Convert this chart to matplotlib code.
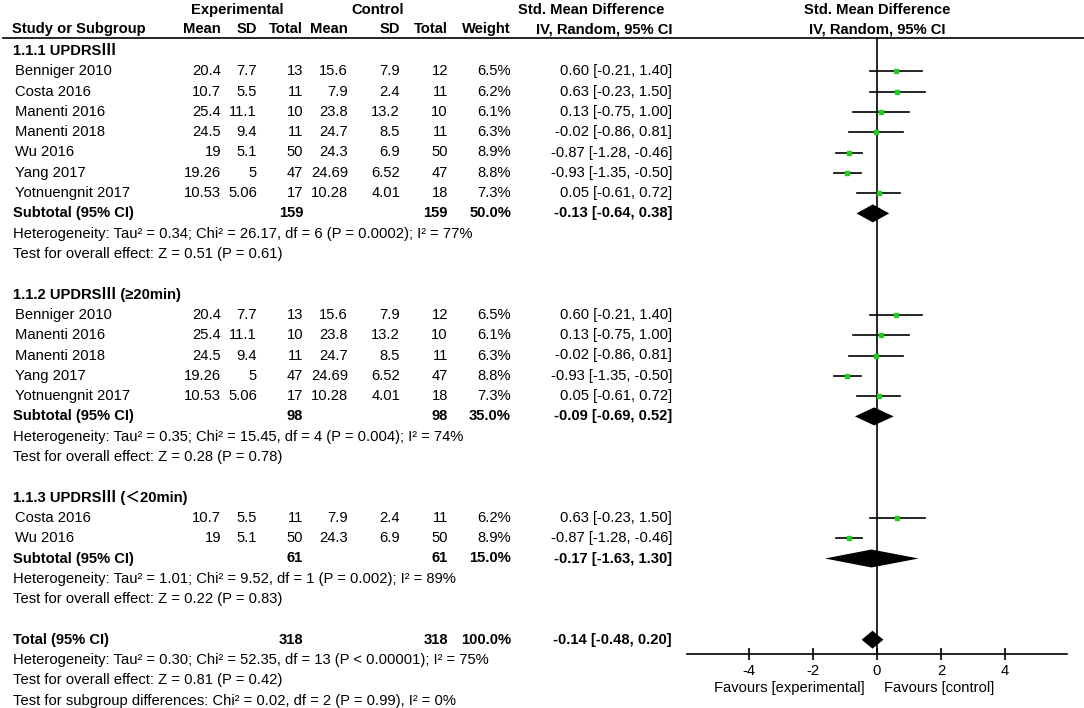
import matplotlib
matplotlib.use('Agg')
import matplotlib.pyplot as plt

# Study level data
studies = ['Benniger 2010', 'Costa 2016', 'Manenti 2016', 'Manenti 2018',
           'Wu 2016', 'Yang 2017', 'Yotnuengnit 2017']
exp_mean = [20.4, 10.7, 25.4, 24.5, 19, 19.26, 10.53]
exp_sd = [7.7, 5.5, 11.1, 9.4, 5.1, 5, 5.06]
exp_n = [13, 11, 10, 11, 50, 47, 17]
ctl_mean = [15.6, 7.9, 23.8, 24.7, 24.3, 24.69, 10.28]
ctl_sd = [7.9, 2.4, 13.2, 8.5, 6.9, 6.52, 4.01]
ctl_n = [12, 11, 10, 11, 50, 47, 18]
weight = [6.5, 6.2, 6.1, 6.3, 8.9, 8.8, 7.3]
smd = [0.60, 0.63, 0.13, -0.02, -0.87, -0.93, 0.05]
ci_lo = [-0.21, -0.23, -0.75, -0.86, -1.28, -1.35, -0.61]
ci_hi = [1.40, 1.50, 1.00, 0.81, -0.46, -0.50, 0.72]

# Subgroups
group_titles = ['1.1.1 UPDRSⅢ', '1.1.2 UPDRSⅢ (≥20min)', '1.1.3 UPDRSⅢ (＜20min)']
group_members = [[0, 1, 2, 3, 4, 5, 6], [0, 2, 3, 5, 6], [1, 4]]
sub_exp_n = [159, 98, 61]
sub_ctl_n = [159, 98, 61]
sub_weight = [50.0, 35.0, 15.0]
sub_smd = [-0.13, -0.09, -0.17]
sub_lo = [-0.64, -0.69, -1.63]
sub_hi = [0.38, 0.52, 1.30]
sub_het = ['Heterogeneity: Tau² = 0.34; Chi² = 26.17, df = 6 (P = 0.0002); I² = 77%',
           'Heterogeneity: Tau² = 0.35; Chi² = 15.45, df = 4 (P = 0.004); I² = 74%',
           'Heterogeneity: Tau² = 1.01; Chi² = 9.52, df = 1 (P = 0.002); I² = 89%']
sub_test = ['Test for overall effect: Z = 0.51 (P = 0.61)',
            'Test for overall effect: Z = 0.28 (P = 0.78)',
            'Test for overall effect: Z = 0.22 (P = 0.83)']

# Overall
tot_exp_n = 318
tot_ctl_n = 318
tot_weight = 100.0
tot_smd = -0.14
tot_lo = -0.48
tot_hi = 0.20
tot_het = 'Heterogeneity: Tau² = 0.30; Chi² = 52.35, df = 13 (P < 0.00001); I² = 75%'
tot_test = 'Test for overall effect: Z = 0.81 (P = 0.42)'
sub_diff = 'Test for subgroup differences: Chi² = 0.02, df = 2 (P = 0.99), I² = 0%'

xticks = [-4, -2, 0, 2, 4]

# layout in pixels
W, H = 1084, 708
fams = ['Liberation Sans', 'Noto Sans CJK SC', 'DejaVu Sans']
fs = 10.6
row0 = 51
dy = 20.3
col_right = [221, 257, 303, 348, 400, 448, 511, 672]

fig = plt.figure(figsize=(W / 100, H / 100), dpi=100)
tax = fig.add_axes([0, 0, 1, 1])
tax.set_xlim(0, W)
tax.set_ylim(H, 0)
tax.axis('off')

# forest axes: x from 687 to 1067 px, y from 37 to 654 px
fx0, fx1, fy0, fy1 = 687, 1067, 37, 654
fax = fig.add_axes([fx0 / W, 1 - fy1 / H, (fx1 - fx0) / W, (fy1 - fy0) / H])
fax.set_xlim(-5.94, 5.94)
fax.set_ylim(fy1, fy0)
fax.patch.set_alpha(0)
for s in ['top', 'left', 'right']:
    fax.spines[s].set_visible(False)
fax.spines['bottom'].set_linewidth(1.2)
fax.set_yticks([])
fax.set_xticks(xticks)
fax.set_xticklabels([str(t) for t in xticks], fontsize=fs, family=fams)
fax.tick_params(axis='x', direction='inout', length=8, width=1.2, pad=3)
fax.axvline(0, color='black', lw=1.2)


def txt(x, y, s, ha='left', bold=False):
    tax.text(x, y, s, ha=ha, va='center', fontsize=fs, family=fams,
             fontweight='bold' if bold else 'normal')


def diamond(y, m, lo, hi, h=9):
    fax.fill([lo, m, hi, m], [y, y - h, y, y + h], color='black', lw=0)


# headers
txt(237, 10, 'Experimental', ha='center', bold=True)
txt(378, 10, 'Control', ha='center', bold=True)
txt(664, 10, 'Std. Mean Difference', ha='right', bold=True)
txt(877, 10, 'Std. Mean Difference', ha='center', bold=True)
txt(12, 29, 'Study or Subgroup', bold=True)
for x, h in zip(col_right, ['Mean', 'SD', 'Total', 'Mean', 'SD', 'Total', 'Weight',
                            'IV, Random, 95% CI']):
    txt(x, 29, h, ha='right', bold=True)
txt(877, 29, 'IV, Random, 95% CI', ha='center', bold=True)
tax.plot([3, W], [38, 38], color='black', lw=1.2)

row = 0
for g in range(3):
    txt(13, row0 + row * dy, group_titles[g], bold=True)
    row += 1
    for i in group_members[g]:
        y = row0 + row * dy
        txt(15, y, studies[i])
        vals = [exp_mean[i], exp_sd[i], exp_n[i], ctl_mean[i], ctl_sd[i], ctl_n[i],
                f'{weight[i]:.1f}%', f'{smd[i]:.2f} [{ci_lo[i]:.2f}, {ci_hi[i]:.2f}]']
        for x, v in zip(col_right, vals):
            txt(x, y, str(v), ha='right')
        fax.plot([ci_lo[i], ci_hi[i]], [y, y], color='black', lw=1.2)
        fax.plot(smd[i], y, marker='s', ms=3.3, color='#22cc22', mec='#22cc22')
        row += 1
    y = row0 + row * dy
    txt(13, y, 'Subtotal (95% CI)', bold=True)
    txt(col_right[2], y, str(sub_exp_n[g]), ha='right', bold=True)
    txt(col_right[5], y, str(sub_ctl_n[g]), ha='right', bold=True)
    txt(col_right[6], y, f'{sub_weight[g]:.1f}%', ha='right', bold=True)
    txt(col_right[7], y, f'{sub_smd[g]:.2f} [{sub_lo[g]:.2f}, {sub_hi[g]:.2f}]',
        ha='right', bold=True)
    diamond(y, sub_smd[g], sub_lo[g], sub_hi[g])
    row += 1
    txt(13, row0 + row * dy, sub_het[g])
    row += 1
    txt(13, row0 + row * dy, sub_test[g])
    row += 2

y = row0 + row * dy
txt(13, y, 'Total (95% CI)', bold=True)
txt(col_right[2], y, str(tot_exp_n), ha='right', bold=True)
txt(col_right[5], y, str(tot_ctl_n), ha='right', bold=True)
txt(col_right[6], y, f'{tot_weight:.1f}%', ha='right', bold=True)
txt(col_right[7], y, f'{tot_smd:.2f} [{tot_lo:.2f}, {tot_hi:.2f}]', ha='right', bold=True)
diamond(y, tot_smd, tot_lo, tot_hi)
txt(13, row0 + (row + 1) * dy, tot_het)
txt(13, row0 + (row + 2) * dy, tot_test)
txt(13, row0 + (row + 3) * dy, sub_diff)

txt(865, 688, 'Favours [experimental]', ha='right')
txt(884, 688, 'Favours [control]')

fig.savefig('out.png', dpi=100)
